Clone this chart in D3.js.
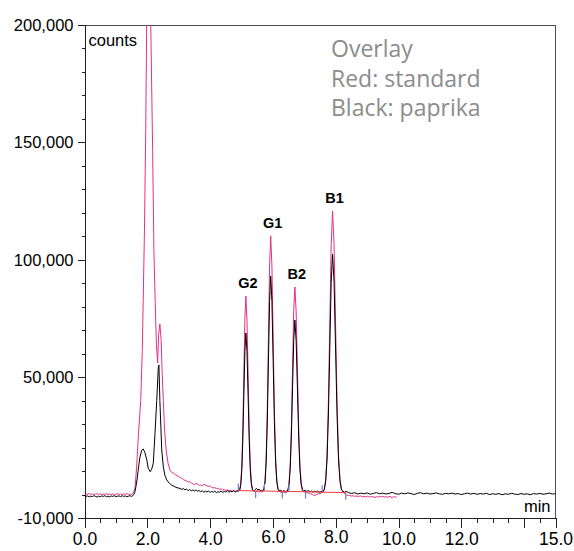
<!DOCTYPE html>
<html>
<head>
<meta charset="utf-8">
<title>Overlay chromatogram</title>
<script src="https://cdnjs.cloudflare.com/ajax/libs/d3/7.8.5/d3.min.js"></script>
<style>
  body { margin: 0; background: #fff; }
  svg { display: block; font-family: "Liberation Sans", Arial, sans-serif; }
  .axis path, .axis line { stroke: #231f20; shape-rendering: crispEdges; }
  .axis text { fill: #000; }
  .legend { fill: #8c8c8c; font-family: "Open Sans", sans-serif; }
</style>
</head>
<body>
<div id="chart"></div>
<script>
// red trace: standard  [min, counts]
var standard = [
  [0.00,300],[0.05,-100],[0.10,200],[0.15,500],[0.20,0],[0.25,300],[0.30,-200],[0.35,200],[0.40,400],[0.45,0],
  [0.50,300],[0.55,-100],[0.60,200],[0.65,100],[0.70,400],[0.75,-100],[0.80,200],[0.85,0],[0.90,300],[0.95,-200],
  [1.00,100],[1.05,400],[1.10,0],[1.15,200],[1.20,-100],[1.25,300],[1.30,100],[1.35,400],[1.40,0],[1.45,200],
  [1.50,100],[1.55,600],
  [1.61,2800],[1.66,11800],[1.72,26000],[1.79,40000],[1.84,61000],[1.87,83000],[1.91,113000],[1.95,155000],
  [1.98,200000],[2.04,224000],[2.11,200000],[2.17,147000],[2.21,104000],[2.25,83000],[2.29,64000],[2.33,56000],
  [2.36,68000],[2.40,72600],[2.44,66000],[2.47,53000],[2.51,40000],[2.55,27500],[2.60,19000],[2.66,13400],
  [2.72,10400],[2.78,9400],[2.83,9100],[2.90,8400],[2.95,8000],[3.00,7600],[3.05,7300],[3.10,6800],[3.15,6500],
  [3.20,6000],[3.25,5800],[3.30,5300],[3.35,5500],[3.40,4900],[3.45,4600],[3.50,4200],[3.55,4700],[3.60,4500],
  [3.65,3900],[3.70,4100],[3.75,3700],[3.80,4400],[3.85,4000],[3.90,3800],[3.95,3400],[4.00,3700],[4.05,3100],
  [4.10,2800],[4.15,3000],[4.20,2500],[4.25,2700],[4.30,2200],[4.35,2400],[4.40,1900],[4.45,2100],[4.50,1800],
  [4.55,2000],[4.60,1600],[4.65,1800],[4.70,1400],[4.75,1600],[4.80,1300],[4.85,1500],[4.90,1600],
  [4.945,2200],[4.977,4960],[5.01,12530],[5.042,28340],[5.075,51800],[5.107,74680],[5.14,84500],[5.175,74000],
  [5.21,51800],[5.245,28300],[5.28,12500],[5.315,5000],[5.35,2200],[5.39,1400],
  [5.45,1200],[5.50,1500],[5.55,1100],[5.60,1400],[5.65,1000],[5.68,1300],
  [5.714,2400],[5.75,6000],[5.786,15950],[5.822,36600],[5.858,67300],[5.894,97300],[5.93,110200],[5.969,97300],
  [6.008,67300],[6.047,36600],[6.086,15950],[6.125,6000],[6.164,2400],[6.20,1400],
  [6.25,1000],[6.30,700],[6.35,1100],[6.40,800],[6.45,1000],
  [6.478,1960],[6.515,4840],[6.552,12830],[6.589,29400],[6.626,54000],[6.663,78100],[6.70,88400],[6.74,78100],
  [6.78,54000],[6.82,29400],[6.86,12830],[6.90,4840],[6.94,1960],[6.98,1200],
  [7.05,1000],[7.10,700],[7.15,600],[7.20,300],[7.25,200],[7.30,-400],[7.35,-300],[7.40,100],[7.45,300],
  [7.50,500],[7.55,700],[7.60,1000],
  [7.636,2220],[7.68,6160],[7.724,17100],[7.768,39800],[7.812,73600],[7.856,106600],[7.90,120700],[7.948,106600],
  [7.995,73600],[8.043,39800],[8.09,17100],[8.138,6160],[8.185,2220],[8.23,1100],
  [8.30,300],[8.35,-200],[8.40,-400],[8.45,-300],[8.50,-700],[8.55,-500],[8.60,-800],[8.65,-600],[8.70,-900],
  [8.75,-700],[8.80,-600],[8.85,-1000],[8.90,-800],[8.95,-1100],[9.00,-700],[9.05,-900],[9.10,-1100],[9.15,-800],
  [9.20,-1000],[9.25,-1300],[9.30,-900],[9.35,-1100],[9.40,-800],[9.45,-1000],[9.50,-700],[9.55,-1100],
  [9.60,-900],[9.65,-1200],[9.70,-800],[9.75,-1000],[9.80,-1300],[9.85,-900],[9.90,-1100],[9.94,-1000]
];

// black trace: paprika  [min, counts]
var paprika = [
  [0.00,-500],[0.05,-800],[0.10,-600],[0.15,-1000],[0.20,-700],[0.25,-900],[0.30,-500],[0.35,-800],[0.40,-1100],
  [0.45,-700],[0.50,-900],[0.55,-600],[0.60,-800],[0.65,-500],[0.70,-900],[0.75,-700],[0.80,-1000],[0.85,-600],
  [0.90,-800],[0.95,-500],[1.00,-900],[1.05,-700],[1.10,-600],[1.15,-900],[1.20,-500],[1.25,-800],[1.30,-600],
  [1.35,-900],[1.40,-700],[1.45,-500],[1.50,-800],[1.55,-400],
  [1.60,800],[1.64,3500],[1.68,7000],[1.71,10400],[1.76,15500],[1.82,18800],[1.87,19400],[1.92,18000],
  [1.98,15000],[2.03,11200],[2.09,9700],[2.14,10800],[2.19,13300],[2.245,26000],[2.30,40000],[2.35,54000],
  [2.37,55150],[2.40,40000],[2.46,19000],[2.51,11800],[2.56,8200],[2.62,6200],[2.70,4800],[2.78,4000],
  [2.86,3400],[2.95,2900],[3.04,2600],[3.10,2200],[3.15,2500],[3.20,2000],[3.25,2300],[3.30,1700],[3.35,2100],
  [3.40,1600],[3.45,1900],[3.50,1500],[3.55,2000],[3.60,1400],[3.65,1700],[3.70,1200],[3.75,1600],[3.80,1000],
  [3.85,1400],[3.90,1100],[3.95,1500],[4.00,900],[4.05,1300],[4.10,1000],[4.15,1400],[4.20,800],[4.25,1200],
  [4.30,1000],[4.35,1500],[4.40,900],[4.45,1300],[4.50,1100],[4.55,1600],[4.60,1000],[4.65,1400],[4.70,1200],
  [4.75,1700],[4.80,1100],[4.85,1500],[4.90,1400],
  [4.945,1950],[4.977,4170],[5.01,10350],[5.042,23170],[5.075,42200],[5.107,60800],[5.14,68800],[5.175,60800],
  [5.21,42200],[5.245,23170],[5.28,10350],[5.315,4170],[5.35,2100],[5.39,1500],
  [5.44,2200],[5.48,2600],[5.52,1900],[5.56,2300],[5.60,1600],[5.65,1900],[5.68,1500],
  [5.714,2300],[5.75,5300],[5.786,13700],[5.822,31100],[5.858,57000],[5.894,82200],[5.93,93000],[5.969,82200],
  [6.008,57000],[6.047,31100],[6.086,13700],[6.125,5300],[6.164,2300],[6.20,1600],
  [6.25,1800],[6.30,1300],[6.35,1700],[6.40,1200],[6.45,1500],
  [6.478,1900],[6.515,4300],[6.552,11000],[6.589,24900],[6.626,45500],[6.663,65700],[6.70,74300],[6.74,65700],
  [6.78,45500],[6.82,24900],[6.86,11000],[6.90,4300],[6.94,2000],[6.98,1500],
  [7.03,1800],[7.08,1300],[7.13,1700],[7.18,1200],[7.23,1500],[7.28,1000],[7.33,1400],[7.38,1100],[7.43,1500],
  [7.48,1000],[7.53,1300],[7.58,1200],
  [7.636,2100],[7.68,5450],[7.724,14700],[7.768,33900],[7.812,62500],[7.856,90400],[7.90,102400],[7.948,90400],
  [7.995,62500],[8.043,33900],[8.09,14700],[8.138,5450],[8.185,2100],[8.23,1400],
  [8.28,1000],[8.33,1300],[8.40,900],[8.50,400],[8.60,800],[8.70,200],[8.80,600],[8.90,300],[9.00,700],
  [9.10,100],[9.20,500],[9.30,800],[9.40,300],[9.50,600],[9.60,200],[9.70,500],[9.80,900],[9.90,400],
  [10.0,100],[10.1,600],[10.2,300],[10.3,700],[10.4,400],[10.5,0],[10.6,500],[10.7,800],[10.8,300],[10.9,600],
  [11.0,200],[11.1,400],[11.2,700],[11.3,300],[11.4,100],[11.5,500],[11.6,300],[11.7,600],[11.8,200],[11.9,400],
  [12.0,0],[12.1,300],[12.2,600],[12.3,200],[12.4,500],[12.5,100],[12.6,400],[12.7,200],[12.8,500],[12.9,0],
  [13.0,300],[13.1,100],[13.2,400],[13.3,-100],[13.4,300],[13.5,100],[13.6,500],[13.7,200],[13.8,0],[13.9,400],
  [14.0,100],[14.1,300],[14.2,-100],[14.3,400],[14.4,200],[14.5,500],[14.6,100],[14.7,300],[14.8,600],[14.9,200],
  [15.0,400]
];

// integration marks on the standard trace  [min, counts]
var peakStarts = [[4.90,1700],[5.73,1500],[6.51,1300],[7.57,1000]];
var peakEnds   = [[5.45,1500],[6.30,1300],[7.04,1200],[8.32,800]];

var peakNames  = ["G2", "G1", "B2", "B1"];
var peakTimes  = [5.14, 5.93, 6.70, 7.90];
var peakTops   = [84500, 110200, 88400, 120700];

var yLabelTicks = [200000, 150000, 100000, 50000, -10000];
var xLabelTicks = [0, 2, 4, 6, 8, 10, 12, 14, 15];
var legendLines = ["Overlay", "Red: standard", "Black: paprika"];

var width = 574, height = 551;
var margin = {top: 25, right: 18.5, bottom: 33, left: 84.5};

var svg = d3.select("#chart").append("svg")
  .attr("width", width).attr("height", height);

var x = d3.scaleLinear().domain([0, 15]).range([margin.left, width - margin.right]);
var y = d3.scaleLinear().domain([-10000, 200000]).range([height - margin.bottom, margin.top]);

svg.append("clipPath").attr("id", "plot")
  .append("rect")
  .attr("x", margin.left).attr("y", margin.top)
  .attr("width", x(15) - x(0)).attr("height", y(-10000) - y(200000));

// frame top and right
svg.append("line")
  .attr("x1", x(0)).attr("x2", x(15)).attr("y1", y(200000)).attr("y2", y(200000))
  .attr("stroke", "#4d4d4d").attr("shape-rendering", "crispEdges");
svg.append("line")
  .attr("x1", x(15)).attr("x2", x(15)).attr("y1", y(200000)).attr("y2", y(-10000))
  .attr("stroke", "#4d4d4d").attr("shape-rendering", "crispEdges");

// y axis
svg.append("g").attr("class", "axis")
  .attr("transform", "translate(" + margin.left + ",0)")
  .call(d3.axisLeft(y).tickValues(d3.range(-10000, 200001, 10000)).tickSize(3).tickFormat(""))
  .call(function(g) { g.select(".domain").remove(); });

svg.append("g").attr("class", "axis")
  .attr("transform", "translate(" + margin.left + ",0)")
  .call(d3.axisLeft(y).tickValues(yLabelTicks).tickSize(7).tickPadding(4)
    .tickFormat(function(d) { return d3.format(",")(d).replace("\u2212", "-"); }))
  .call(function(g) {
    g.selectAll("text").attr("font-size", "16.5px").attr("font-family", "Liberation Sans, Arial, sans-serif");
  });

// x axis
svg.append("g").attr("class", "axis")
  .attr("transform", "translate(0," + y(-10000) + ")")
  .call(d3.axisBottom(x).tickValues(d3.range(0, 15.01, 0.5)).tickSize(5).tickFormat(""))
  .call(function(g) { g.select(".domain").remove(); });

svg.append("g").attr("class", "axis")
  .attr("transform", "translate(0," + y(-10000) + ")")
  .call(d3.axisBottom(x).tickValues(xLabelTicks).tickSize(10).tickPadding(5)
    .tickFormat(function(d) { return d === 14 ? "" : d3.format(".1f")(d); }))
  .call(function(g) {
    g.selectAll("text")
      .attr("font-size", "17.5px").attr("font-family", "Liberation Sans, Arial, sans-serif")
      .attr("dy", function(d) { return (d === 6 || d === 8) ? "0.55em" : "0.71em"; });
  });

var line = d3.line().x(function(d) { return x(d[0]); }).y(function(d) { return y(d[1]); });

var traces = svg.append("g").attr("clip-path", "url(#plot)");

traces.append("path").datum(standard)
  .attr("d", line).attr("fill", "none").attr("stroke", "#e5307f").attr("stroke-width", 1);

traces.append("path").datum(paprika)
  .attr("d", line).attr("fill", "none").attr("stroke", "#000").attr("stroke-width", 1);

var marks = peakStarts.concat(peakEnds).sort(function(a, b) { return a[0] - b[0]; });
traces.append("path").datum(marks)
  .attr("d", line).attr("fill", "none").attr("stroke", "#ef3b3b").attr("stroke-width", 1);

traces.selectAll(".start").data(peakStarts).enter().append("line")
  .attr("x1", function(d) { return x(d[0]); }).attr("x2", function(d) { return x(d[0]); })
  .attr("y1", function(d) { return y(d[1]); }).attr("y2", function(d) { return y(d[1]) - 7; })
  .attr("stroke", "#6a82d0").attr("stroke-width", 1.2);

traces.selectAll(".end").data(peakEnds).enter().append("line")
  .attr("x1", function(d) { return x(d[0]); }).attr("x2", function(d) { return x(d[0]); })
  .attr("y1", function(d) { return y(d[1]); }).attr("y2", function(d) { return y(d[1]) + 7; })
  .attr("stroke", "#6a82d0").attr("stroke-width", 1.2);

// peak names
svg.selectAll(".peak").data(peakNames).enter().append("text")
  .attr("x", function(d, i) { return x(peakTimes[i]) + 2; })
  .attr("y", function(d, i) { return y(peakTops[i]) - 8; })
  .attr("text-anchor", "middle")
  .attr("font-size", "14.5px").attr("font-weight", "bold")
  .text(function(d) { return d; });

svg.append("text")
  .attr("x", margin.left + 4).attr("y", 46)
  .attr("font-size", "16.5px")
  .text("counts");

svg.append("text")
  .attr("x", x(15) - 5).attr("y", 512)
  .attr("text-anchor", "end")
  .attr("font-size", "16.5px")
  .text("min");

svg.selectAll(".legend").data(legendLines).enter().append("text")
  .attr("class", "legend")
  .attr("x", 331).attr("y", function(d, i) { return 57 + i * 29.5; })
  .attr("font-size", "23px")
  .text(function(d) { return d; });
</script>
</body>
</html>
